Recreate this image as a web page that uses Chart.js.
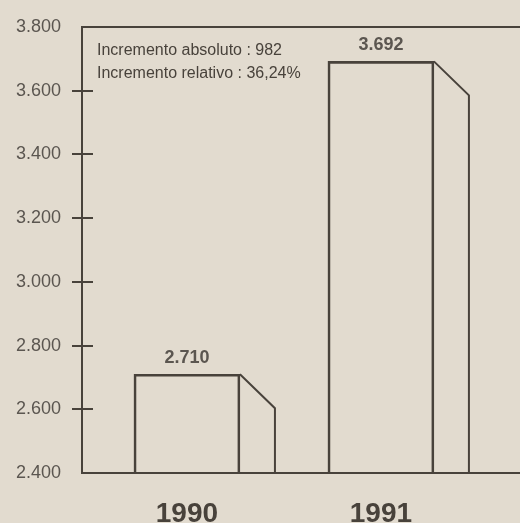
<!DOCTYPE html>
<html>
<head>
<meta charset="utf-8">
<script src="https://cdn.jsdelivr.net/npm/chart.js@4/dist/chart.umd.min.js"></script>
<style>
  html, body { margin: 0; padding: 0; background: #e2dbcf; }
  #wrap { width: 520px; height: 523px; position: relative; }
</style>
</head>
<body>
<div id="wrap"><canvas id="chart"></canvas></div>
<script>
// data
var years = [1990, 1991];
var values = [2710, 3692];
var valueLabels = ['2.710', '3.692'];
var yTicks = [2400, 2600, 2800, 3000, 3200, 3400, 3600, 3800];
var notes = ['Incremento absoluto : 982', 'Incremento relativo : 36,24%'];

var ink = '#48423b';
var grey = '#5b5650';
var paper = '#e2dbcf';

function fmt(v) {
    return String(v).replace(/\B(?=(\d{3})+(?!\d))/g, '.');
}

// draws paper, top rule, inner tick halves, bar side faces and texts
var decor = {
    id: 'decor',
    beforeDraw: function(chart) {
        var ctx = chart.ctx;
        ctx.save();
        ctx.fillStyle = paper;
        ctx.fillRect(0, 0, chart.width, chart.height);
        ctx.restore();
    },
    afterDatasetsDraw: function(chart) {
        var ctx = chart.ctx;
        var area = chart.chartArea;
        var y = chart.scales.y;
        var meta = chart.getDatasetMeta(0);
        ctx.save();
        ctx.strokeStyle = ink;
        ctx.lineWidth = 2;
        ctx.lineCap = 'square';

        // top rule
        ctx.beginPath();
        ctx.moveTo(area.left, area.top);
        ctx.lineTo(area.right, area.top);
        ctx.stroke();

        // tick marks crossing the axis
        yTicks.forEach(function(t) {
            if (t == y.min || t == y.max) return;
            var py = Math.round(y.getPixelForValue(t));
            ctx.beginPath();
            ctx.moveTo(area.left, py);
            ctx.lineTo(area.left + 10, py);
            ctx.stroke();
        });

        // side faces
        ctx.lineCap = 'butt';
        ctx.lineJoin = 'miter';
        meta.data.forEach(function(bar) {
            var right = bar.x + bar.width / 2;
            ctx.beginPath();
            ctx.moveTo(right, bar.y);
            ctx.lineTo(right + 35, bar.y + 34);
            ctx.lineTo(right + 35, area.bottom);
            ctx.stroke();
        });

        // value labels
        ctx.fillStyle = grey;
        ctx.font = 'bold 18px "Liberation Sans", Arial, sans-serif';
        ctx.textAlign = 'center';
        ctx.textBaseline = 'middle';
        meta.data.forEach(function(bar, i) {
            ctx.fillText(valueLabels[i], bar.x, bar.y - 16);
        });

        // notes
        ctx.fillStyle = ink;
        ctx.font = '16px "Liberation Sans", Arial, sans-serif';
        ctx.textAlign = 'left';
        ctx.textBaseline = 'alphabetic';
        ctx.fillText(notes[0], 97, 55);
        ctx.fillText(notes[1], 97, 78);
        ctx.restore();
    }
};

var ctx = document.getElementById('chart').getContext('2d');
var chart = new Chart(ctx, {
    type: 'bar',
    data: {
        datasets: [{
            data: years.map(function(yr, i) { return { x: yr, y: values[i] }; }),
            backgroundColor: 'rgba(0,0,0,0)',
            borderColor: ink,
            borderWidth: 2,
            borderSkipped: 'bottom',
            barThickness: 106
        }]
    },
    options: {
        responsive: true,
        maintainAspectRatio: false,
        animation: false,
        layout: { padding: { top: 27, right: 0, left: 0, bottom: 0 } },
        plugins: {
            legend: { display: false },
            tooltip: { enabled: false }
        },
        scales: {
            x: {
                type: 'linear',
                offset: false,
                min: 1989.459,
                max: 1991.717,
                afterBuildTicks: function(scale) {
                    scale.ticks = years.map(function(v) { return { value: v }; });
                },
                afterFit: function(scale) { scale.height = 50; },
                grid: { display: false, drawTicks: false, offset: false },
                border: { display: true, color: ink, width: 2 },
                ticks: {
                    color: ink,
                    padding: 24,
                    font: { family: '"Liberation Sans", Arial, sans-serif', size: 28, weight: 'bold' },
                    callback: function(v) { return String(v); }
                }
            },
            y: {
                min: 2400,
                max: 3800,
                afterBuildTicks: function(scale) {
                    scale.ticks = yTicks.map(function(v) { return { value: v }; });
                },
                afterFit: function(scale) { scale.width = 82; },
                grid: {
                    drawOnChartArea: false,
                    drawTicks: true,
                    tickLength: 10,
                    lineWidth: 2,
                    color: function(c) {
                        if (c.tick && (c.tick.value == 2400 || c.tick.value == 3800)) return 'rgba(0,0,0,0)';
                        return ink;
                    }
                },
                border: { display: true, color: ink, width: 2 },
                ticks: {
                    color: grey,
                    padding: 11,
                    font: { family: '"Liberation Sans", Arial, sans-serif', size: 18 },
                    callback: function(v) { return fmt(v); }
                }
            }
        }
    },
    plugins: [decor]
});
</script>
</body>
</html>
